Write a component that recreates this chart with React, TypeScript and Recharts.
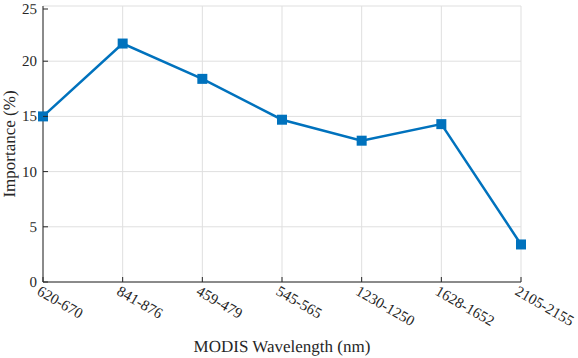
import { LineChart, Line, XAxis, YAxis, CartesianGrid } from "recharts"

const wavelengths = ["620-670", "841-876", "459-479", "545-565", "1230-1250", "1628-1652", "2105-2155"]
const importance = [15.0, 21.6, 18.4, 14.7, 12.8, 14.3, 3.4]
const yTicks = [0, 5, 10, 15, 20, 25]

const data = wavelengths.map((w, i) => ({ band: w, importance: importance[i] }))

const FONT = "Liberation Serif"
const AXIS = "#262626"
const BLUE = "#0072BD"
const TXT = { fontFamily: FONT, textRendering: "geometricPrecision" as const }

const BottomTick = (props: any) => {
  const { x, y, payload } = props
  return (
    <g>
      <line x1={x} y1={y} x2={x} y2={y - 5} stroke={AXIS} />
      <text
        x={0}
        y={0}
        transform={`translate(${x - 7},${y + 12}) rotate(30)`}
        textAnchor="start"
        style={{ ...TXT, fontSize: 15 }}
        fill={AXIS}
      >
        {payload.value}
      </text>
    </g>
  )
}

const TopTick = (props: any) => {
  const { x, y } = props
  return <line x1={x} y1={y} x2={x} y2={y + 5} stroke={AXIS} />
}

const LeftTick = (props: any) => {
  const { x, y, payload } = props
  return (
    <g>
      <line x1={x} y1={y} x2={x + 5} y2={y} stroke={AXIS} />
      <text x={x - 6} y={y + 5} textAnchor="end" style={{ ...TXT, fontSize: 15 }} fill={AXIS}>
        {payload.value}
      </text>
    </g>
  )
}

const RightTick = (props: any) => {
  const { x, y } = props
  return <line x1={x} y1={y} x2={x - 5} y2={y} stroke={AXIS} />
}

const SquareDot = (props: any) => {
  const { cx, cy } = props
  return <rect x={cx - 5} y={cy - 5} width={10} height={10} fill={BLUE} />
}

const XLabel = (props: any) => {
  const vb = props.viewBox
  return (
    <text x={vb.x + vb.width / 2} y={352} textAnchor="middle" style={{ ...TXT, fontSize: 17 }} fill={AXIS}>
      MODIS Wavelength (nm)
    </text>
  )
}

const YLabel = (props: any) => {
  const vb = props.viewBox
  const cy = vb.y + vb.height / 2
  return (
    <text x={0} y={0} transform={`translate(15,${cy}) rotate(-90)`} textAnchor="middle" style={{ ...TXT, fontSize: 17 }} fill={AXIS}>
      Importance (%)
    </text>
  )
}

export default function App() {
  return (
    <div style={{ position: "absolute", left: 0, top: 0, background: "#fff" }}>
      <LineChart width={578} height={358} data={data} margin={{ top: 6, right: 57, bottom: 0, left: 0 }}>
        <CartesianGrid stroke="#dfdfdf" strokeWidth={1} />
        <XAxis
          dataKey="band"
          height={76}
          tickSize={0}
          tickMargin={0}
          tick={<BottomTick />}
          interval={0}
          stroke={AXIS}
          label={<XLabel />}
        />
        <XAxis
          xAxisId="top"
          dataKey="band"
          orientation="top"
          height={0}
          tickSize={0}
          tickMargin={0}
          tick={<TopTick />}
          interval={0}
          stroke={AXIS}
        />
        <YAxis
          domain={[0, 25]}
          ticks={yTicks}
          width={43}
          tickSize={0}
          tickMargin={0}
          tick={<LeftTick />}
          stroke={AXIS}
          label={<YLabel />}
        />
        <YAxis
          yAxisId="right"
          orientation="right"
          domain={[0, 25]}
          ticks={yTicks}
          width={0}
          tickSize={0}
          tickMargin={0}
          tick={<RightTick />}
          stroke={AXIS}
        />
        <Line
          type="linear"
          dataKey="importance"
          stroke={BLUE}
          strokeWidth={2.5}
          dot={<SquareDot />}
          activeDot={false}
          isAnimationActive={false}
        />
      </LineChart>
    </div>
  )
}
